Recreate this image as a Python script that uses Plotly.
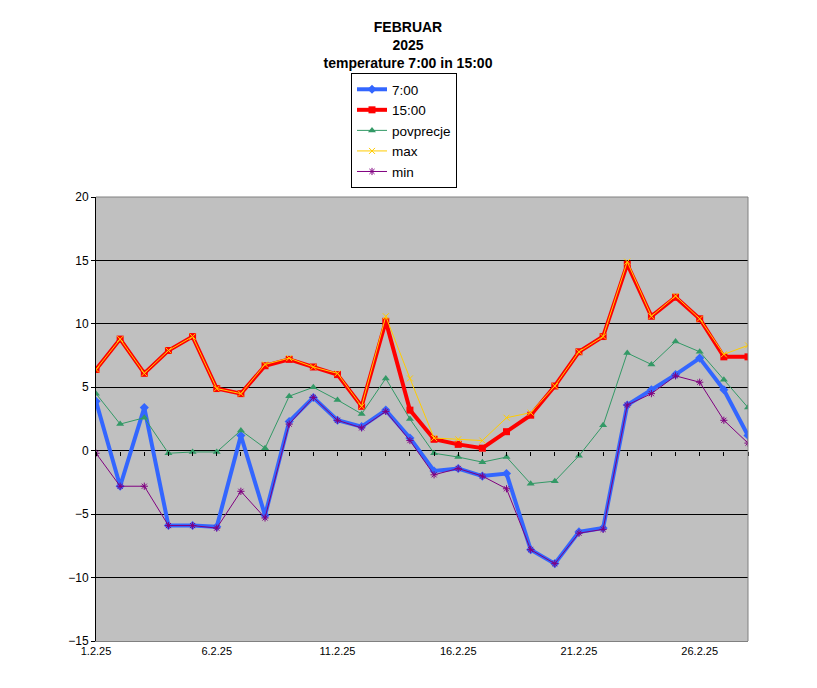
import plotly.graph_objects as go

# days of February 2025
days = [f"{d}.2.25" for d in range(1, 29)]
tick_days = ["1.2.25", "6.2.25", "11.2.25", "16.2.25", "21.2.25", "26.2.25"]

t7 = [3.9, -2.8, 3.4, -5.9, -5.9, -6.0, 1.2, -5.1, 2.3, 4.2, 2.4, 1.9, 3.2, 1.0,
      -1.6, -1.4, -2.0, -1.8, -7.8, -8.9, -6.4, -6.1, 3.6, 4.8, 6.0, 7.3, 4.8, 1.2]
t15 = [6.4, 8.8, 6.1, 7.9, 9.0, 4.9, 4.5, 6.7, 7.2, 6.6, 6.0, 3.5, 10.2, 3.2,
       0.9, 0.5, 0.2, 1.5, 2.8, 5.1, 7.8, 9.0, 14.7, 10.6, 12.1, 10.4, 7.4, 7.4]
povp = [4.5, 2.1, 2.6, -0.2, -0.1, -0.1, 1.6, 0.2, 4.3, 5.0, 4.0, 2.9, 5.7, 2.5,
        -0.2, -0.5, -0.9, -0.5, -2.6, -2.4, -0.4, 2.0, 7.7, 6.8, 8.6, 7.8, 5.6, 3.4]
tmax = [6.4, 8.8, 6.1, 7.9, 9.0, 4.9, 4.5, 6.8, 7.3, 6.6, 6.1, 3.5, 10.6, 5.7,
        1.0, 0.9, 0.8, 2.6, 3.0, 5.1, 7.8, 9.0, 14.9, 10.6, 12.2, 10.4, 7.6, 8.3]
tmin = [-0.2, -2.8, -2.8, -5.9, -5.9, -6.1, -3.2, -5.3, 2.1, 4.2, 2.4, 1.8, 3.1, 0.8,
        -1.9, -1.4, -2.0, -3.0, -7.8, -8.9, -6.5, -6.2, 3.6, 4.5, 5.9, 5.4, 2.4, 0.6]

FONT = "Liberation Sans, Arial, sans-serif"
W, H = 817, 688
L, T, PW, PH = 88, 189, 652, 444   # plot area (page has an 8px body margin)

fig = go.Figure()
fig.add_trace(go.Scatter(x=days, y=t7, name="7:00", mode="lines+markers",
                         line=dict(color="#3366FF", width=4),
                         marker=dict(symbol="diamond", size=7, color="#3366FF")))
fig.add_trace(go.Scatter(x=days, y=t15, name="15:00", mode="lines+markers",
                         line=dict(color="#FF0000", width=4),
                         marker=dict(symbol="square", size=7, color="#FF0000")))
fig.add_trace(go.Scatter(x=days, y=povp, name="povprecje", mode="lines+markers",
                         line=dict(color="#339966", width=1),
                         marker=dict(symbol="triangle-up", size=7, color="#339966")))
fig.add_trace(go.Scatter(x=days, y=tmax, name="max", mode="lines+markers",
                         line=dict(color="#FFCC00", width=1),
                         marker=dict(symbol="x-thin-open", size=6,
                                     line=dict(color="#FFCC00", width=1))))
fig.add_trace(go.Scatter(x=days, y=tmin, name="min", mode="lines+markers",
                         line=dict(color="#800080", width=1),
                         marker=dict(symbol="asterisk-open", size=6,
                                     line=dict(color="#800080", width=1))))
# dummy trace to carry the tick marks on the zero line
fig.add_trace(go.Scatter(x=days, y=[None] * len(days), xaxis="x2", showlegend=False,
                         hoverinfo="skip"))

# grey frame on top and right of the plot area
fig.add_shape(type="line", xref="paper", yref="paper", x0=0, x1=1, y0=1, y1=1,
              line=dict(color="#808080", width=1), layer="above")
fig.add_shape(type="line", xref="paper", yref="paper", x0=1, x1=1, y0=0, y1=1,
              line=dict(color="#808080", width=1), layer="above")

fig.update_layout(
    width=W, height=H,
    margin=dict(l=L, r=W - L - PW, t=T, b=H - T - PH),
    paper_bgcolor="white",
    plot_bgcolor="#C0C0C0",
    font=dict(family=FONT, size=12, color="black"),
    title=dict(text="<b>FEBRUAR<br>2025<br>temperature 7:00 in 15:00</b>",
               x=400 / W, xanchor="center", xref="container",
               y=1 - 24 / H, yref="container", yanchor="top",
               font=dict(family=FONT, size=14, color="black")),
    legend=dict(x=(343 - L) / PW, y=(T + PH - 65) / PH, xanchor="left", yanchor="top",
                bgcolor="white", bordercolor="black", borderwidth=1,
                font=dict(family=FONT, size=13.5), tracegroupgap=0),
    xaxis=dict(type="category", range=[0, 27], tickvals=tick_days, ticktext=tick_days,
               showgrid=False, zeroline=False, ticks="", showline=True,
               linecolor="#808080", linewidth=1,
               tickfont=dict(size=11)),
    xaxis2=dict(matches="x", overlaying="x", anchor="free", position=15 / 35,
                side="bottom", showgrid=False, zeroline=False, showline=False,
                ticks="outside", ticklen=4, tickcolor="black", tickwidth=1,
                tickvals=days, showticklabels=False),
    yaxis=dict(range=[-15, 20], dtick=5, showgrid=True, gridcolor="black", gridwidth=1,
               zeroline=False, showline=True, linecolor="black", linewidth=1,
               ticks="outside", ticklen=4, tickcolor="black",
               tickfont=dict(size=12)),
)

fig.write_html("out.html")
